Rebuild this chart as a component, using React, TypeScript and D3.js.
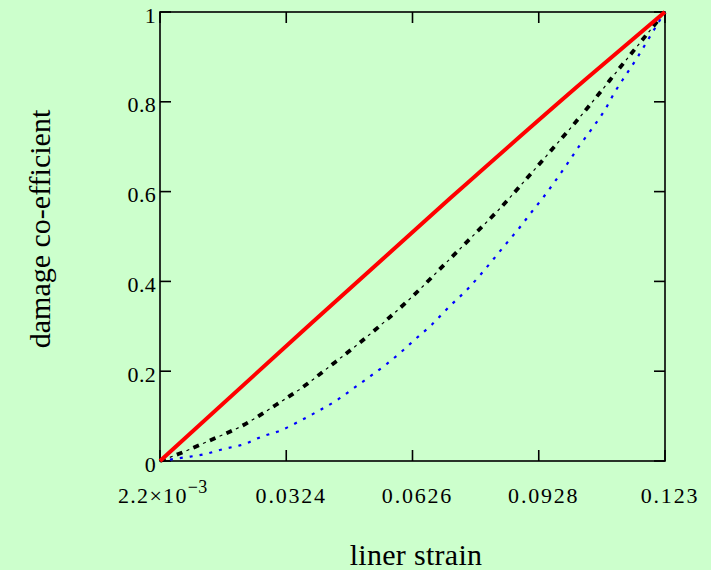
import React from "react";
import * as d3 from "d3";

const xTicks = [0.0022, 0.0324, 0.0626, 0.0928, 0.123];
const xTickLabels = ["2.2×10", "0.0324", "0.0626", "0.0928", "0.123"];
const yTicks = [0, 0.2, 0.4, 0.6, 0.8, 1];
const yTickLabels = ["0", "0.2", "0.4", "0.6", "0.8", "1"];

const redX = [0.0022, 0.0357, 0.0716, 0.1039, 0.123];
const redY = [0, 0.284, 0.585, 0.849, 1];

const blackX = [0.0022, 0.0066, 0.0144, 0.0222, 0.0299, 0.0363, 0.043, 0.0496, 0.0564, 0.0627, 0.0709, 0.0782, 0.0834, 0.0896, 0.0953, 0.1011, 0.1065, 0.1119, 0.1177, 0.123];
const blackY = [0, 0.0156, 0.0468, 0.0802, 0.1247, 0.1641, 0.2122, 0.2606, 0.314, 0.3675, 0.4439, 0.5122, 0.5612, 0.6258, 0.6866, 0.749, 0.8096, 0.8724, 0.9392, 1];

const blueX = [0.0022, 0.008, 0.0128, 0.0175, 0.0225, 0.0265, 0.0309, 0.0361, 0.0405, 0.0446, 0.0487, 0.0527, 0.0564, 0.0599, 0.0634, 0.0672, 0.0714, 0.0758, 0.079, 0.082, 0.0848, 0.0882, 0.0911, 0.094, 0.0968, 0.0996, 0.1025, 0.1057, 0.1086, 0.111, 0.1138, 0.1165, 0.1189, 0.1215, 0.123];
const blueY = [0, 0.008, 0.015, 0.027, 0.038, 0.0541, 0.0675, 0.0913, 0.1136, 0.1359, 0.1633, 0.19, 0.216, 0.2428, 0.2724, 0.3036, 0.3437, 0.3831, 0.4165, 0.4499, 0.4817, 0.5196, 0.5546, 0.5886, 0.6243, 0.6615, 0.7016, 0.7423, 0.7817, 0.8218, 0.8619, 0.9004, 0.9376, 0.9777, 1];

const W = 711;
const H = 570;
const FONT = "Liberation Serif, Times New Roman, serif";

export default function App() {
  const x = d3.scaleLinear().domain([0.0022, 0.123]).range([160, 665]);
  const y = d3.scaleLinear().domain([0, 1]).range([461, 12]);

  const line = d3
    .line<[number, number]>()
    .x((d) => x(d[0]))
    .y((d) => y(d[1]))
    .curve(d3.curveMonotoneX);

  const red = line(redX.map((v, i) => [v, redY[i]]) as [number, number][]) || "";
  const black = line(blackX.map((v, i) => [v, blackY[i]]) as [number, number][]) || "";
  const blue = line(blueX.map((v, i) => [v, blueY[i]]) as [number, number][]) || "";

  const x0 = x(xTicks[0]);
  const x1 = x(xTicks[xTicks.length - 1]);
  const y0 = y(0);
  const y1 = y(1);
  const tl = 11;

  return (
    <svg
      width={W}
      height={H}
      style={{ position: "absolute", left: 0, top: 0, background: "#ccffcc" }}
    >
      <rect x={0} y={0} width={W} height={H} fill="#ccffcc" />
      <rect x={x0} y={y1} width={x1 - x0} height={y0 - y1} fill="none" stroke="#000" strokeWidth={1.6} />
      {xTicks.map((t, i) => (
        <g key={"xt" + i}>
          <line x1={x(t)} x2={x(t)} y1={y0} y2={y0 - tl} stroke="#000" strokeWidth={1.6} />
          <line x1={x(t)} x2={x(t)} y1={y1} y2={y1 + tl} stroke="#000" strokeWidth={1.6} />
        </g>
      ))}
      {yTicks.map((t, i) => (
        <g key={"yt" + i}>
          <line x1={x0} x2={x0 + tl} y1={y(t)} y2={y(t)} stroke="#000" strokeWidth={1.6} />
          <line x1={x1} x2={x1 - tl} y1={y(t)} y2={y(t)} stroke="#000" strokeWidth={1.6} />
        </g>
      ))}
      {xTicks.map((t, i) =>
        i === 0 ? (
          <text key={"xl" + i} x={x(t) - 42} y={503} fontFamily={FONT} fontSize={22} letterSpacing={1.3} fill="#000">
            {xTickLabels[i]}
            <tspan fontSize={18} dy={-10} letterSpacing={0.5}>−3</tspan>
          </text>
        ) : (
          <text key={"xl" + i} x={x(t) + 5} y={503} textAnchor="middle" fontFamily={FONT} fontSize={22} letterSpacing={1.8} fill="#000">
            {xTickLabels[i]}
          </text>
        )
      )}
      {yTicks.map((t, i) => (
        <text key={"yl" + i} x={156} y={y(t) + 10.5} textAnchor="end" fontFamily={FONT} fontSize={22} letterSpacing={0.3} fill="#000">
          {yTickLabels[i]}
        </text>
      ))}
      <path d={blue} fill="none" stroke="#0000ff" strokeWidth={2.2} strokeDasharray="3 7" />
      <path d={black} fill="none" stroke="#000" strokeWidth={3.8} strokeDasharray="6 12" />
      <path d={black} fill="none" stroke="#000" strokeWidth={1.2} strokeDasharray="3 15" strokeDashoffset={-10.5} />
      <path d={red} fill="none" stroke="#ff0000" strokeWidth={4} />
      <text x={416} y={565} textAnchor="middle" fontFamily={FONT} fontSize={30} letterSpacing={0.3} fill="#000">
        liner strain
      </text>
      <text
        transform={`translate(50,229) rotate(-90)`}
        textAnchor="middle"
        fontFamily={FONT}
        fontSize={30}
        fill="#000"
      >
        damage co-efficient
      </text>
    </svg>
  );
}
